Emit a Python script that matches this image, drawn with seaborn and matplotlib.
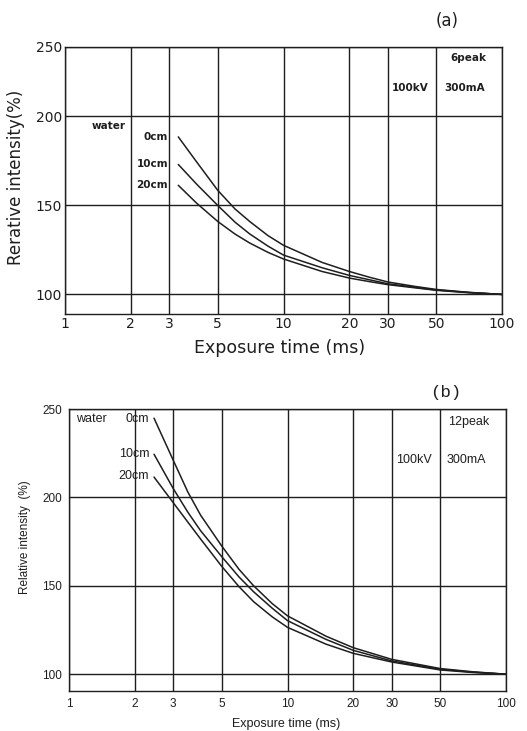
import numpy as np
import pandas as pd
import matplotlib
matplotlib.use("Agg")
import matplotlib.pyplot as plt
from matplotlib.ticker import NullLocator
import seaborn as sns

# ---------------- data ----------------
depths = ["0cm", "10cm", "20cm"]

# panel (a): 6peak
time_a = [3.3, 4, 5, 6, 7, 8.5, 10, 15, 20, 25, 30, 40, 50, 70, 100]
a_0cm = [188.5, 174.5, 158.5, 148, 141, 133, 127.6, 118, 112.9, 109.5, 107, 104.5, 102.8, 101.2, 100]
a_10cm = [173, 162, 150, 140.6, 134, 127.1, 122.1, 115, 110.7, 108.1, 106, 104, 102.5, 101.1, 100]
a_20cm = [161.3, 151.3, 141, 133.9, 128.9, 123.6, 119.9, 112.9, 109.2, 107.1, 105.5, 103.7, 102.3, 101, 100]

# panel (b): 12peak
time_b = [2.45, 3, 3.5, 4, 5, 6, 7, 8.5, 10, 15, 20, 30, 50, 70, 100]
b_0cm = [244.8, 221, 203, 190, 172.5, 159.3, 150, 140, 133, 121.5, 115, 108.4, 103.2, 101.4, 100]
b_10cm = [224.4, 205, 191.6, 181.2, 166.5, 155, 146.6, 137.4, 130.3, 119.7, 113.5, 107.5, 102.8, 101.2, 100]
b_20cm = [211.5, 197, 186, 176.5, 161, 149.5, 141, 132.5, 126.5, 117, 111.8, 106.9, 102.4, 101, 100]

xticks = [1, 2, 3, 5, 10, 20, 30, 50, 100]
xtick_labels = ["1", "2", "3", "5", "10", "20", "30", "50", "100"]
yticks = [100, 150, 200, 250]
ytick_labels = ["100", "150", "200", "250"]


def long_df(times, series):
    rows = []
    for name, vals in zip(depths, series):
        for t, v in zip(times, vals):
            rows.append({"time": t, "intensity": v, "depth": name})
    return pd.DataFrame(rows)


df_a = long_df(time_a, [a_0cm, a_10cm, a_20cm])
df_b = long_df(time_b, [b_0cm, b_10cm, b_20cm])

# ---------------- style ----------------
sns.set_theme(style="white")
plt.rcParams["font.family"] = ["DejaVu Sans"]
INK = "#1e1e1e"

fig = plt.figure(figsize=(5.27, 7.31), dpi=100)
fig.patch.set_facecolor("white")

W, H = 527.0, 731.0
ax_a = fig.add_axes([65 / W, (H - 314) / H, 437 / W, 267 / H])
ax_b = fig.add_axes([69 / W, (H - 691) / H, 437 / W, 282 / H])


# panel (a) drawing has a compressed top band (200-250) in the original
def fwd_a(y):
    y = np.asarray(y, dtype=float)
    return np.where(y <= 200, y, 200 + (y - 200) * 0.78)


def inv_a(y):
    y = np.asarray(y, dtype=float)
    return np.where(y <= 200, y, 200 + (y - 200) / 0.78)


pal = {d: INK for d in depths}

for ax, df in ((ax_a, df_a), (ax_b, df_b)):
    sns.lineplot(data=df, x="time", y="intensity", hue="depth", palette=pal,
                 estimator=None, sort=True, legend=False, lw=1.1, ax=ax)
    ax.set_xscale("log")
    ax.set_xlim(1, 100)
    ax.set_xticks(xticks)
    ax.xaxis.set_minor_locator(NullLocator())
    ax.set_yticks(yticks)
    ax.grid(True, which="major", color=INK, lw=1.0)
    ax.tick_params(length=0)
    for s in ax.spines.values():
        s.set_color(INK)
        s.set_linewidth(1.0)
    ax.set_facecolor("white")

# ----- panel (a) -----
ax_a.set_yscale("function", functions=(fwd_a, inv_a))
ax_a.set_ylim(89, 250)
ax_a.set_yticks(yticks)
ax_a.set_xticks(xticks)
ax_a.xaxis.set_minor_locator(NullLocator())
ax_a.yaxis.set_minor_locator(NullLocator())
ax_a.set_xticklabels(xtick_labels, fontsize=10, color=INK)
ax_a.set_yticklabels(ytick_labels, fontsize=10, color=INK)
ax_a.tick_params(axis="x", pad=2)
ax_a.tick_params(axis="y", pad=2)
ax_a.set_xlabel("Exposure time (ms)", fontsize=12.5, color=INK)
ax_a.set_ylabel("Rerative intensity(%)", fontsize=12, color=INK)
ax_a.xaxis.set_label_coords(0.49, -0.094)
ax_a.yaxis.set_label_coords(-0.112, 0.513)
ax_a.yaxis.label.set_va("center")
ax_a.text(0.874, 1.097, "(a)", transform=ax_a.transAxes, ha="center",
          va="center", fontsize=12, color=INK)

ka = dict(fontsize=7.5, fontweight="bold", color=INK, va="center")
ax_a.text(1.58, 194.8, "water", ha="center", **ka)
ax_a.text(2.96, 188.5, "0cm", ha="right", **ka)
ax_a.text(2.96, 173, "10cm", ha="right", **ka)
ax_a.text(2.96, 161.3, "20cm", ha="right", **ka)
ax_a.text(69.9, 242.1, "6peak", ha="center", **ka)
ax_a.text(37.9, 220.6, "100kV", ha="center", **ka)
ax_a.text(67.7, 220.6, "300mA", ha="center", **ka)

# ----- panel (b) -----
fb = ["Liberation Sans", "DejaVu Sans"]
ax_b.set_ylim(90.5, 250)
ax_b.set_xticklabels(xtick_labels, fontsize=8.5, color=INK, family=fb)
ax_b.set_yticklabels(ytick_labels, fontsize=8.5, color=INK, family=fb)
ax_b.tick_params(axis="x", pad=5)
ax_b.tick_params(axis="y", pad=5)
ax_b.set_xlabel("Exposure time (ms)", fontsize=9, color=INK, family=fb)
ax_b.set_ylabel("Relative intensity  (%)", fontsize=8.5, color=INK, family=fb)
ax_b.xaxis.set_label_coords(0.497, -0.095)
ax_b.yaxis.set_label_coords(-0.1, 0.544)
ax_b.yaxis.label.set_va("center")
ax_b.text(0.863, 1.06, "(b)", transform=ax_b.transAxes, ha="center",
          va="center", fontsize=12.5, color=INK,
          family=["Liberation Mono", "DejaVu Sans Mono"])

kb = dict(fontsize=9, color=INK, va="center", family=fb)
ax_b.text(1.26, 244.4, "water", ha="center", **kb)
ax_b.text(2.33, 244.4, "0cm", ha="right", **kb)
ax_b.text(2.33, 224.4, "10cm", ha="right", **kb)
ax_b.text(2.33, 212.2, "20cm", ha="right", **kb)
ax_b.text(67.7, 242.8, "12peak", ha="center", **kb)
ax_b.text(37.9, 221.1, "100kV", ha="center", **kb)
ax_b.text(65.6, 221.1, "300mA", ha="center", **kb)

fig.savefig("out.png", dpi=100, facecolor="white")
